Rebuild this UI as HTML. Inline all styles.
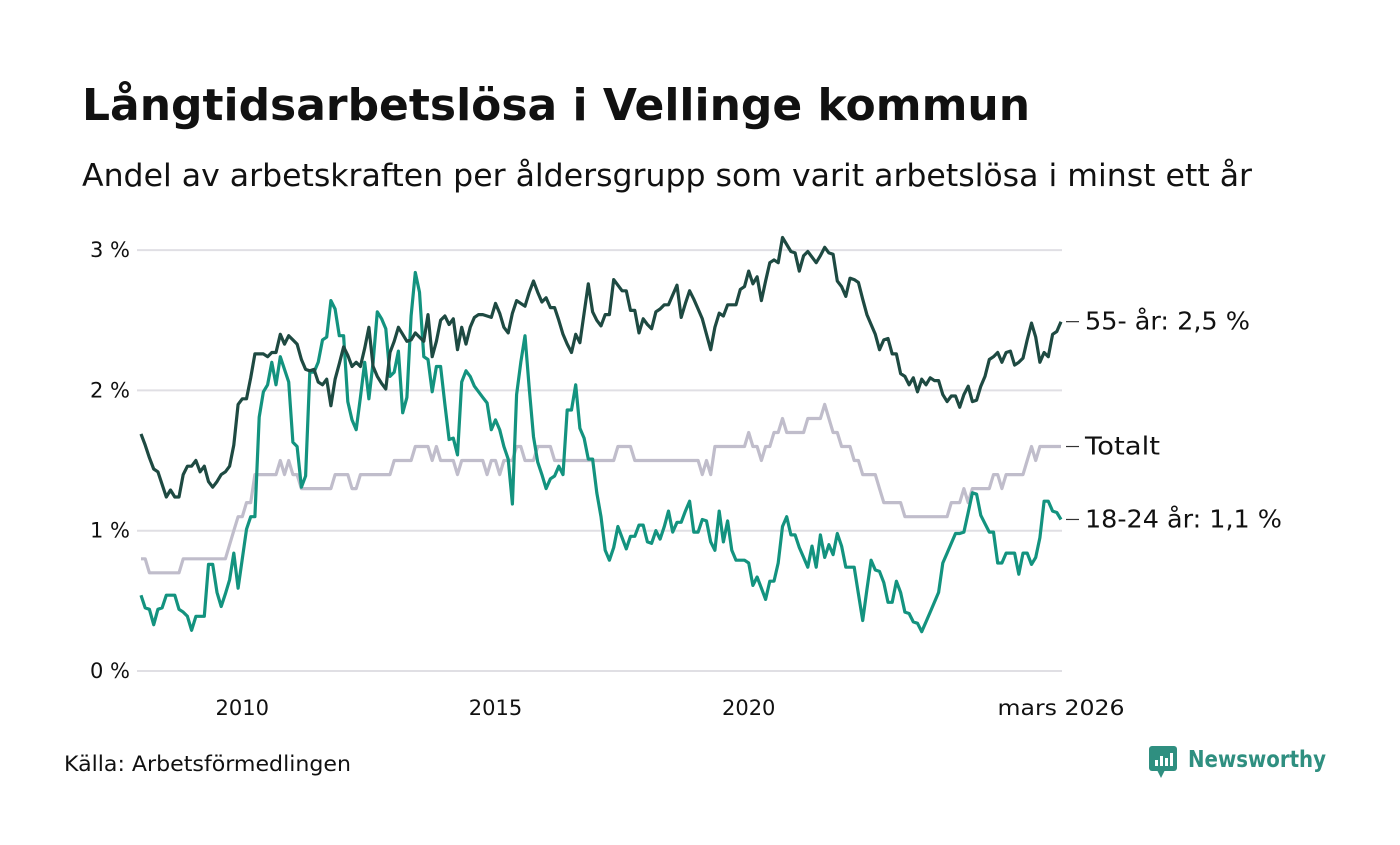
<!DOCTYPE html>
<html><head><meta charset="utf-8">
<style>
html,body{margin:0;padding:0;background:#fff;}
body{width:1400px;height:840px;overflow:hidden;font-family:"Liberation Sans",sans-serif;}
svg text{font-family:"DejaVu Sans","Liberation Sans",sans-serif;}
</style></head>
<body>
<svg id="chart" width="1400" height="840" viewBox="0 0 1400 840" xmlns="http://www.w3.org/2000/svg">
<text x="82" y="120" font-size="44" font-weight="bold" fill="#111" textLength="948" lengthAdjust="spacingAndGlyphs">Långtidsarbetslösa i Vellinge kommun</text>
<text x="82" y="186" font-size="31" fill="#111" textLength="1170" lengthAdjust="spacingAndGlyphs">Andel av arbetskraften per åldersgrupp som varit arbetslösa i minst ett år</text>
<g id="grid"></g>
<g id="yticks"></g>
<g id="xticks"></g>
<g id="series"></g>
<g id="labels"></g>
<text x="64" y="771" font-size="21" fill="#111" textLength="287" lengthAdjust="spacingAndGlyphs">Källa: Arbetsförmedlingen</text>
<g>
<rect x="1149" y="746" width="28" height="25" rx="3" fill="#2f8f80"/>
<polygon points="1157,770 1165,770 1161,778" fill="#2f8f80"/>
<rect x="1155" y="760" width="3" height="6" fill="#fff"/><rect x="1160" y="756" width="3" height="10" fill="#fff"/><rect x="1165" y="758" width="3" height="8" fill="#fff"/><rect x="1170" y="753" width="3" height="13" fill="#fff"/>
<text x="1188" y="767" font-size="23" font-weight="bold" fill="#2f8f80" textLength="138" lengthAdjust="spacingAndGlyphs">Newsworthy</text>
</g>
</svg>
<script>
// Monthly data, Jan 2008 .. Mar 2026 (219 months)
const startYear = 2008;
const yTicks = [0, 1, 2, 3];
const yTickLabels = ["0 %", "1 %", "2 %", "3 %"];
const xTickYears = [2010, 2015, 2020];
const lastLabel = "mars 2026";
const seriesNames = ["55- år: 2,5 %", "Totalt", "18-24 år: 1,1 %"];

const v55 = [1.69,1.61,1.52,1.44,1.42,1.33,1.24,1.29,1.24,1.24,1.40,1.46,1.46,1.50,1.42,1.46,1.35,1.31,1.35,1.40,
1.42,1.46,1.61,1.90,1.94,1.94,2.09,2.26,2.26,2.26,2.24,2.27,2.27,2.40,2.33,2.39,2.36,2.33,2.22,2.15,
2.14,2.15,2.06,2.04,2.08,1.89,2.08,2.19,2.31,2.25,2.17,2.20,2.17,2.30,2.45,2.17,2.10,2.05,2.01,2.27,
2.35,2.45,2.40,2.35,2.36,2.41,2.38,2.35,2.54,2.24,2.35,2.50,2.53,2.47,2.51,2.29,2.45,2.33,2.45,2.52,
2.54,2.54,2.53,2.52,2.62,2.55,2.45,2.41,2.55,2.64,2.62,2.60,2.70,2.78,2.70,2.63,2.66,2.59,2.59,2.50,
2.40,2.33,2.27,2.40,2.34,2.55,2.76,2.56,2.50,2.46,2.54,2.54,2.79,2.75,2.71,2.71,2.57,2.57,2.41,2.51,
2.47,2.44,2.56,2.58,2.61,2.61,2.68,2.75,2.52,2.62,2.71,2.65,2.58,2.51,2.40,2.29,2.45,2.55,2.53,2.61,
2.61,2.61,2.72,2.74,2.85,2.76,2.81,2.64,2.78,2.91,2.93,2.91,3.09,3.04,2.99,2.98,2.85,2.96,2.99,2.95,
2.91,2.96,3.02,2.98,2.97,2.78,2.74,2.67,2.80,2.79,2.77,2.65,2.54,2.47,2.40,2.29,2.36,2.37,2.26,2.26,
2.12,2.10,2.04,2.09,1.99,2.08,2.04,2.09,2.07,2.07,1.97,1.92,1.96,1.96,1.88,1.97,2.03,1.92,1.93,2.03,
2.10,2.22,2.24,2.27,2.20,2.27,2.28,2.18,2.20,2.23,2.36,2.48,2.38,2.20,2.27,2.24,2.40,2.42,2.49];

const vTot = [0.8,0.8,0.7,0.7,0.7,0.7,0.7,0.7,0.7,0.7,0.8,0.8,0.8,0.8,0.8,0.8,0.8,0.8,0.8,0.8,
0.8,0.9,1.0,1.1,1.1,1.2,1.2,1.4,1.4,1.4,1.4,1.4,1.4,1.5,1.4,1.5,1.4,1.4,1.3,1.3,
1.3,1.3,1.3,1.3,1.3,1.3,1.4,1.4,1.4,1.4,1.3,1.3,1.4,1.4,1.4,1.4,1.4,1.4,1.4,1.4,
1.5,1.5,1.5,1.5,1.5,1.6,1.6,1.6,1.6,1.5,1.6,1.5,1.5,1.5,1.5,1.4,1.5,1.5,1.5,1.5,
1.5,1.5,1.4,1.5,1.5,1.4,1.5,1.5,1.5,1.6,1.6,1.5,1.5,1.5,1.6,1.6,1.6,1.6,1.5,1.5,
1.5,1.5,1.5,1.5,1.5,1.5,1.5,1.5,1.5,1.5,1.5,1.5,1.5,1.6,1.6,1.6,1.6,1.5,1.5,1.5,
1.5,1.5,1.5,1.5,1.5,1.5,1.5,1.5,1.5,1.5,1.5,1.5,1.5,1.4,1.5,1.4,1.6,1.6,1.6,1.6,
1.6,1.6,1.6,1.6,1.7,1.6,1.6,1.5,1.6,1.6,1.7,1.7,1.8,1.7,1.7,1.7,1.7,1.7,1.8,1.8,
1.8,1.8,1.9,1.8,1.7,1.7,1.6,1.6,1.6,1.5,1.5,1.4,1.4,1.4,1.4,1.3,1.2,1.2,1.2,1.2,
1.2,1.1,1.1,1.1,1.1,1.1,1.1,1.1,1.1,1.1,1.1,1.1,1.2,1.2,1.2,1.3,1.2,1.3,1.3,1.3,
1.3,1.3,1.4,1.4,1.3,1.4,1.4,1.4,1.4,1.4,1.5,1.6,1.5,1.6,1.6,1.6,1.6,1.6,1.6];

const v1824 = [0.54,0.45,0.44,0.33,0.44,0.45,0.54,0.54,0.54,0.44,0.42,0.39,0.29,0.39,0.39,0.39,0.76,0.76,0.56,0.46,
0.55,0.65,0.84,0.59,0.80,1.01,1.10,1.10,1.81,1.99,2.04,2.20,2.04,2.24,2.15,2.06,1.63,1.60,1.31,1.39,
2.13,2.13,2.20,2.36,2.38,2.64,2.58,2.39,2.39,1.92,1.79,1.72,1.95,2.20,1.94,2.20,2.56,2.51,2.44,2.10,
2.13,2.28,1.84,1.95,2.53,2.84,2.70,2.24,2.22,1.99,2.17,2.17,1.90,1.65,1.66,1.54,2.06,2.14,2.10,2.03,
1.99,1.95,1.91,1.72,1.79,1.72,1.60,1.51,1.19,1.97,2.20,2.39,2.01,1.67,1.49,1.40,1.30,1.37,1.39,1.46,
1.40,1.86,1.86,2.04,1.73,1.66,1.51,1.51,1.27,1.10,0.86,0.79,0.88,1.03,0.95,0.87,0.96,0.96,1.04,1.04,
0.92,0.91,1.00,0.94,1.03,1.14,0.99,1.06,1.06,1.14,1.21,0.99,0.99,1.08,1.07,0.92,0.86,1.14,0.92,1.07,
0.86,0.79,0.79,0.79,0.77,0.61,0.67,0.59,0.51,0.64,0.64,0.77,1.03,1.10,0.97,0.97,0.88,0.81,0.74,0.89,
0.74,0.97,0.81,0.90,0.83,0.98,0.89,0.74,0.74,0.74,0.55,0.36,0.58,0.79,0.72,0.71,0.63,0.49,0.49,0.64,
0.56,0.42,0.41,0.35,0.34,0.28,0.35,0.42,0.49,0.56,0.77,0.84,0.91,0.98,0.98,0.99,1.13,1.27,1.26,1.11,
1.05,0.99,0.99,0.77,0.77,0.84,0.84,0.84,0.69,0.84,0.84,0.76,0.81,0.95,1.21,1.21,1.14,1.13,1.08];

const NS = "http://www.w3.org/2000/svg";
const X0 = 141, X1 = 1061, Y0 = 671, PX_PER_UNIT = 140.3;
const nMonths = 218;
function xScale(month){ return X0 + (X1 - X0) * month / nMonths; }
function xYear(year){ return xScale((year - startYear) * 12); }
function yScale(v){ return Y0 - v * PX_PER_UNIT; }

const grid = document.getElementById('grid');
const yt = document.getElementById('yticks');
yTicks.forEach((t, i) => {
  const l = document.createElementNS(NS, 'line');
  
  
  l.setAttribute('x1', 137); l.setAttribute('x2', 1062);
  l.setAttribute('y1', yScale(t)); l.setAttribute('y2', yScale(t));
  l.setAttribute('stroke', '#e0dfe4'); l.setAttribute('stroke-width', 2);
  grid.appendChild(l);
  const tx = document.createElementNS(NS, 'text');
  
  
  tx.setAttribute('x', 130); tx.setAttribute('y', yScale(t) + 7);
  tx.setAttribute('text-anchor', 'end'); tx.setAttribute('font-size', 21); tx.setAttribute('fill', '#111');
  tx.textContent = yTickLabels[i];
  yt.appendChild(tx);
});
const xt = document.getElementById('xticks');
xTickYears.forEach(yr => {
  const tx = document.createElementNS(NS, 'text');
  
  
  tx.setAttribute('x', xYear(yr)); tx.setAttribute('y', 715);
  tx.setAttribute('text-anchor', 'middle'); tx.setAttribute('font-size', 21); tx.setAttribute('fill', '#111');
  tx.textContent = yr;
  xt.appendChild(tx);
});
{
  const tx = document.createElementNS(NS, 'text');
  
  
  tx.setAttribute('x', xScale(nMonths)); tx.setAttribute('y', 715);
  tx.setAttribute('text-anchor', 'middle'); tx.setAttribute('font-size', 21); tx.setAttribute('fill', '#111');
  tx.setAttribute('textLength', 127); tx.setAttribute('lengthAdjust', 'spacingAndGlyphs');
  tx.textContent = lastLabel;
  xt.appendChild(tx);
}

const sg = document.getElementById('series');
const lg = document.getElementById('labels');
const all = [[vTot, '#c0bdcb', 'line-totalt'], [v1824, '#13937f', 'line-18-24'], [v55, '#1e4a42', 'line-55-plus']];
const labelIdx = {'line-55-plus': 0, 'line-totalt': 1, 'line-18-24': 2};
const labelWidths = [165, 75, 197];
all.forEach(([vals, col, name]) => {
  const p = document.createElementNS(NS, 'path');
  
  
  p.setAttribute('d', vals.map((v, i) => (i ? 'L' : 'M') + xScale(i).toFixed(1) + ',' + yScale(v).toFixed(1)).join(''));
  p.setAttribute('fill', 'none'); p.setAttribute('stroke', col); p.setAttribute('stroke-width', 3.2);
  p.setAttribute('stroke-linejoin', 'round');
  sg.appendChild(p);
  const yl = yScale(vals[vals.length - 1]);
  const ln = document.createElementNS(NS, 'line');
  
  
  ln.setAttribute('x1', 1066); ln.setAttribute('x2', 1079); ln.setAttribute('y1', yl); ln.setAttribute('y2', yl);
  ln.setAttribute('stroke', '#333'); ln.setAttribute('stroke-width', 1.2);
  lg.appendChild(ln);
  const t = document.createElementNS(NS, 'text');
  
  
  t.setAttribute('x', 1085); t.setAttribute('y', yl + 8);
  t.setAttribute('font-size', 25); t.setAttribute('fill', '#111');
  t.setAttribute('textLength', labelWidths[labelIdx[name]]); t.setAttribute('lengthAdjust', 'spacingAndGlyphs');
  t.textContent = seriesNames[labelIdx[name]];
  lg.appendChild(t);
});
</script>
</body></html>
